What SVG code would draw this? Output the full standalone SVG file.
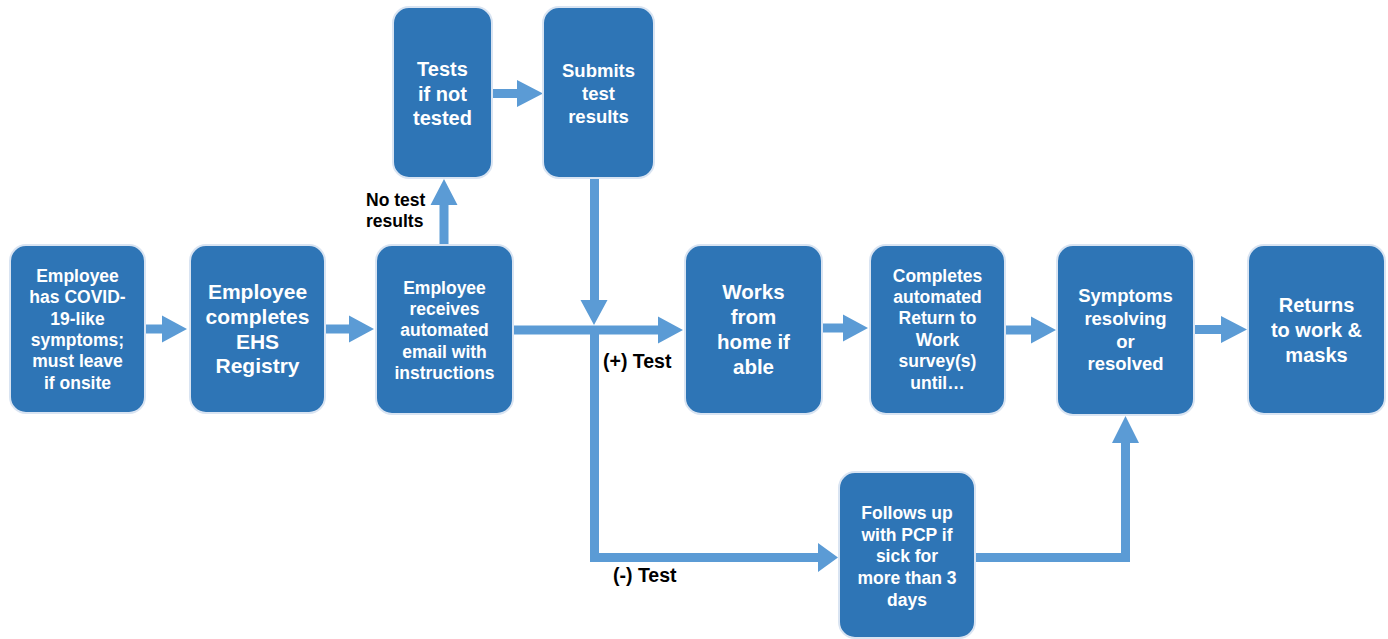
<svg xmlns="http://www.w3.org/2000/svg" width="1388" height="639" viewBox="0 0 1388 639">
<style>
.box{fill:#2E75B6;stroke:#D9E4F2;stroke-width:2}
.t{font-family:"Liberation Sans",Arial,sans-serif;font-weight:bold;fill:#FFFFFF;text-anchor:middle}
.lbl{font-family:"Liberation Sans",Arial,sans-serif;font-weight:bold;fill:#000000}
.conn{fill:#5B9BD5;stroke:none}
</style>
<rect width="1388" height="639" fill="#FFFFFF"/>
<g id="connectors">
<path class="conn" d="M146,324.5 H162 V315.5 L187,329 L162,342.5 V333.5 H146 Z"/>
<path class="conn" d="M325,324.5 H349 V315.5 L374,329 L349,342.5 V333.5 H325 Z"/>
<path class="conn" d="M513,325.5 H658 V316.5 L683,330 L658,343.5 V334.5 H513 Z"/>
<path class="conn" d="M822,323.5 H843 V314.5 L868,328 L843,341.5 V332.5 H822 Z"/>
<path class="conn" d="M1005,325.5 H1031 V316.5 L1056,330 L1031,343.5 V334.5 H1005 Z"/>
<path class="conn" d="M1193,325 H1221 V316 L1247,329.5 L1221,343 V334 H1193 Z"/>
<path class="conn" d="M492,89 H517 V80 L543,93.5 L517,107 V98 H492 Z"/>
<path class="conn" d="M439.5,245 V205 H430.5 L444,179 L457.5,205 H448.5 V245 Z"/>
<path class="conn" d="M590,178 V300 H580.5 L594,325 L607.5,300 H599 V178 Z"/>
<path class="conn" d="M590,330 V562 H818 V572 L838,557.5 L818,543 V553 H599 V330 Z"/>
<path class="conn" d="M975,553 H1121 V443 H1112 L1125.5,416 L1139,443 H1130 V562 H975 Z"/>
</g>
<g id="n1">
<rect class="box" x="10" y="245" width="135" height="168" rx="16"/>
<text class="t" font-size="17.5"><tspan x="77.5" y="282">Employee</tspan><tspan x="77.5" y="303">has COVID-</tspan><tspan x="77.5" y="325">19-like</tspan><tspan x="77.5" y="346">symptoms;</tspan><tspan x="77.5" y="367">must leave</tspan><tspan x="77.5" y="389">if onsite</tspan></text>
</g>
<g id="n2">
<rect class="box" x="190" y="245" width="135" height="168" rx="16"/>
<text class="t" font-size="21"><tspan x="257.5" y="299">Employee</tspan><tspan x="257.5" y="324">completes</tspan><tspan x="257.5" y="349">EHS</tspan><tspan x="257.5" y="373">Registry</tspan></text>
</g>
<g id="n3">
<rect class="box" x="376" y="245" width="137" height="169" rx="16"/>
<text class="t" font-size="17.5"><tspan x="444.5" y="294">Employee</tspan><tspan x="444.5" y="315">receives</tspan><tspan x="444.5" y="336">automated</tspan><tspan x="444.5" y="358">email with</tspan><tspan x="444.5" y="379">instructions</tspan></text>
</g>
<g id="n4">
<rect class="box" x="393" y="7" width="99" height="171" rx="16"/>
<text class="t" font-size="20"><tspan x="442.5" y="76">Tests</tspan><tspan x="442.5" y="101">if not</tspan><tspan x="442.5" y="125">tested</tspan></text>
</g>
<g id="n5">
<rect class="box" x="543" y="7" width="111" height="171" rx="16"/>
<text class="t" font-size="18.5"><tspan x="598.5" y="77">Submits</tspan><tspan x="598.5" y="100">test</tspan><tspan x="598.5" y="123">results</tspan></text>
</g>
<g id="n6">
<rect class="box" x="685" y="245" width="137" height="169" rx="16"/>
<text class="t" font-size="20.5"><tspan x="753.5" y="299">Works</tspan><tspan x="753.5" y="324">from</tspan><tspan x="753.5" y="349">home if</tspan><tspan x="753.5" y="374">able</tspan></text>
</g>
<g id="n7">
<rect class="box" x="870" y="245" width="135" height="169" rx="16"/>
<text class="t" font-size="17.5"><tspan x="937.5" y="282">Completes</tspan><tspan x="937.5" y="303">automated</tspan><tspan x="937.5" y="324">Return to</tspan><tspan x="937.5" y="346">Work</tspan><tspan x="937.5" y="367">survey(s)</tspan><tspan x="937.5" y="389">until…</tspan></text>
</g>
<g id="n8">
<rect class="box" x="1057" y="245" width="137" height="170" rx="16"/>
<text class="t" font-size="18.5"><tspan x="1125.5" y="302">Symptoms</tspan><tspan x="1125.5" y="325">resolving</tspan><tspan x="1125.5" y="348">or</tspan><tspan x="1125.5" y="370">resolved</tspan></text>
</g>
<g id="n9">
<rect class="box" x="1248" y="245" width="137" height="169" rx="16"/>
<text class="t" font-size="20"><tspan x="1316.5" y="312">Returns</tspan><tspan x="1316.5" y="337">to work &amp;</tspan><tspan x="1316.5" y="362">masks</tspan></text>
</g>
<g id="n10">
<rect class="box" x="839" y="472" width="136" height="166" rx="16"/>
<text class="t" font-size="17.5"><tspan x="907" y="519">Follows up</tspan><tspan x="907" y="541">with PCP if</tspan><tspan x="907" y="562">sick for</tspan><tspan x="907" y="584">more than 3</tspan><tspan x="907" y="606">days</tspan></text>
</g>
<g id="labels">
<text class="lbl" font-size="17.5"><tspan x="366" y="206">No test</tspan><tspan x="366" y="227">results</tspan></text>
<text class="lbl" font-size="19.5" x="603" y="368">(+) Test</text>
<text class="lbl" font-size="19.5" x="613" y="582">(-) Test</text>
</g>
</svg>
